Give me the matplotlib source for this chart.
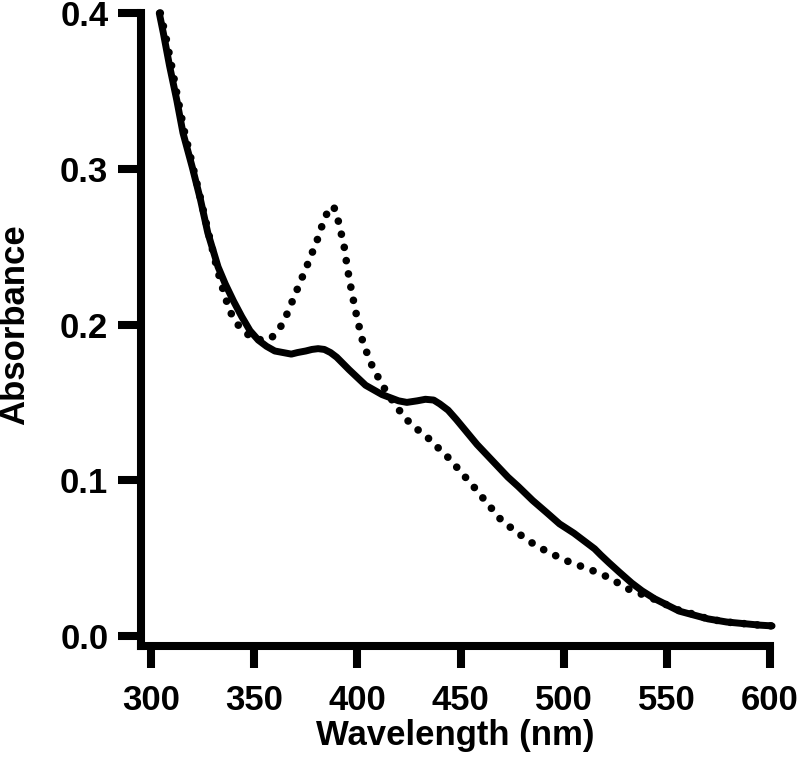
import matplotlib
matplotlib.use("Agg")
import matplotlib.pyplot as plt

# ==============================
# Data
# ==============================
wl_solid = [304, 306, 309, 312.5, 315.5, 320, 324, 327.5, 332.5, 336, 340, 344, 348,
            352, 356, 360, 364, 368, 371, 375, 378, 381, 384, 387, 390, 393, 396,
            400, 404, 408, 412, 416, 420, 424, 429, 433, 437, 440, 444, 448, 453,
            458, 463, 468, 473, 478, 485, 492, 498, 505, 511, 515, 518, 522, 527,
            533, 538, 544, 550, 556, 563, 570, 579, 587, 595, 601]
abs_solid = [0.400, 0.387, 0.366, 0.344, 0.323, 0.301, 0.280, 0.259, 0.237, 0.226,
             0.215, 0.205, 0.196, 0.190, 0.186, 0.183, 0.182, 0.181, 0.182, 0.183,
             0.184, 0.1845, 0.184, 0.182, 0.179, 0.175, 0.171, 0.166, 0.161, 0.158,
             0.155, 0.153, 0.151, 0.150, 0.151, 0.152, 0.1515, 0.149, 0.145, 0.139,
             0.131, 0.123, 0.116, 0.109, 0.102, 0.096, 0.087, 0.079, 0.072, 0.066,
             0.060, 0.056, 0.052, 0.047, 0.041, 0.034, 0.029, 0.024, 0.020, 0.016,
             0.0135, 0.011, 0.009, 0.008, 0.007, 0.0065]

wl_dot = [304.5, 307, 310, 313, 316, 320, 324, 328, 332, 335, 338, 342, 346.5, 350,
          354, 358, 361, 363.5, 366, 371, 376, 380.5, 384.3, 387, 388.5, 390.5,
          393.5, 395.2, 397.4, 399.9, 402.8, 407.6, 414.4, 423, 428.8, 434.4,
          439.8, 445.3, 450.3, 455.1, 460, 465, 470, 476, 482, 488, 494, 500, 506,
          512, 518, 524, 530, 535, 540, 545, 550, 556, 563, 570, 579, 587, 595, 601]
abs_dot = [0.400, 0.386, 0.366, 0.345, 0.325, 0.303, 0.281, 0.258, 0.236, 0.222,
           0.209, 0.200, 0.194, 0.191, 0.190, 0.191, 0.195, 0.200, 0.207, 0.223,
           0.239, 0.254, 0.269, 0.275, 0.276, 0.268, 0.251, 0.236, 0.220, 0.204,
           0.188, 0.172, 0.156, 0.140, 0.133, 0.127, 0.120, 0.113, 0.105, 0.098,
           0.090, 0.082, 0.074, 0.068, 0.062, 0.057, 0.053, 0.049, 0.046, 0.043,
           0.040, 0.036, 0.031, 0.028, 0.026, 0.023, 0.020, 0.0165, 0.014, 0.011,
           0.009, 0.008, 0.007, 0.0065]

x_ticks = [300, 350, 400, 450, 500, 550, 600]
y_ticks = [0.0, 0.1, 0.2, 0.3, 0.4]

# ==============================
# Plot
# ==============================
plt.rcParams['font.family'] = ['Liberation Sans', 'DejaVu Sans']
plt.rcParams['font.weight'] = 'bold'

fig = plt.figure(figsize=(7.99, 7.58), dpi=100)
ax = fig.add_axes([141 / 799, 112 / 758, 629 / 799, 633 / 758])

ax.plot(wl_solid, abs_solid, color='black', lw=5, solid_capstyle='round',
        solid_joinstyle='round', clip_on=False)
ax.plot(wl_dot, abs_dot, color='black', lw=5.5, ls=(0, (0.01, 1.75)),
        dash_capstyle='round', clip_on=False)

ax.set_xlim(295.15, 600)
ax.set_ylim(-0.0064, 0.4)
ax.set_xticks(x_ticks)
ax.set_yticks(y_ticks)
ax.set_yticklabels([f"{v:.1f}" for v in y_ticks])

for s in ['top', 'right']:
    ax.spines[s].set_visible(False)
for s in ['left', 'bottom']:
    ax.spines[s].set_linewidth(5.8)
    ax.spines[s].set_capstyle('projecting')

ax.tick_params(axis='both', direction='out', width=5.8, labelsize=25)
ax.tick_params(axis='x', length=16, pad=11)
ax.tick_params(axis='y', length=16.5, pad=7)

ax.set_xlabel("Wavelength (nm)", fontsize=25, fontweight='bold', labelpad=2)
ax.set_ylabel("Absorbance", fontsize=25, fontweight='bold')
ax.yaxis.set_label_coords(-0.174, 0.507)

fig.savefig("out.png", dpi=100)
